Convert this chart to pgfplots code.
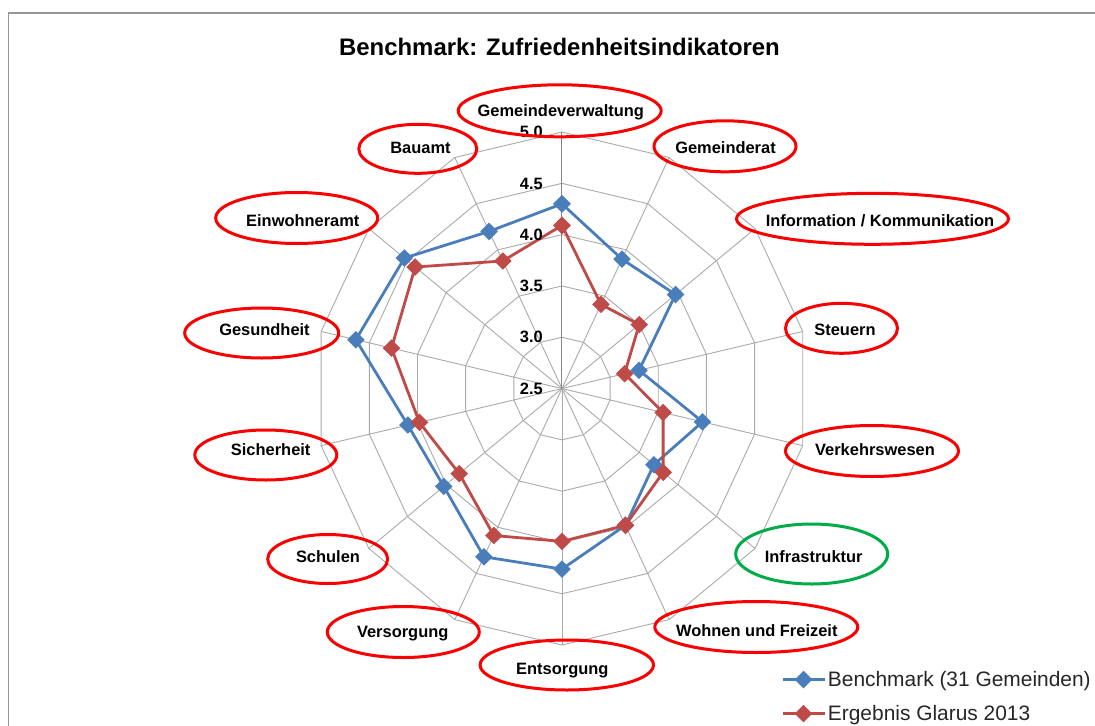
\documentclass[border=0pt]{standalone}
\usepackage{pgfplots}
\pgfplotsset{compat=1.18}
\usepackage{pgfplotstable}
\usepackage{fontspec}
\setmainfont{Liberation Sans}
\definecolor{bblue}{RGB}{74,126,187}
\definecolor{rred}{RGB}{190,75,72}
\definecolor{gridc}{RGB}{170,170,170}
\definecolor{axc}{RGB}{134,134,134}
\definecolor{ellred}{RGB}{250,0,0}
\definecolor{ellgreen}{RGB}{0,172,72}
\definecolor{framec}{RGB}{150,150,150}

% angle (deg, counter-clockwise from east), value
\pgfplotstableread{
ang v
90 4.30
64.2857 3.90
38.5714 3.97
12.8571 3.30
-12.8571 3.96
-38.5714 3.69
-64.2857 3.98
-90 4.26
-115.7143 4.32
-141.4286 4.03
-167.1429 4.10
-192.8571 4.64
-218.5714 4.54
-244.2857 4.20
-270 4.30
}\bench
\pgfplotstableread{
ang v
90 4.09
64.2857 3.41
38.5714 3.50
12.8571 3.15
-12.8571 3.55
-38.5714 3.81
-64.2857 3.98
-90 3.99
-115.7143 4.09
-141.4286 3.83
-167.1429 3.98
-192.8571 4.27
-218.5714 4.40
-244.2857 3.88
-270 4.09
}\glarus

\begin{document}
\begin{tikzpicture}[
  lab/.style={font=\fontsize{16.5}{19}\selectfont\bfseries, anchor=base, inner sep=0pt},
  tick/.style={font=\fontsize{16.5}{19}\selectfont\bfseries, anchor=base east, inner sep=0pt},
  ell/.style={draw=ellred, line width=3bp},
]
\useasboundingbox (0,0) rectangle (1095bp,-726bp);
\clip (0,0) rectangle (1095bp,-726bp);
\fill[white] (0,0) rectangle (1095bp,-726bp);
\draw[framec, line width=1.2bp] (8.5bp,-740bp) -- (8.5bp,-13bp) -- (1110bp,-13bp);

\begin{axis}[at={(0,0)}, anchor=north west, scale only axis,
  width=1095bp, height=726bp,
  xmin=-5.688, xmax=5.395, ymin=-3.289, ymax=3.787,
  hide axis, clip=false,
  legend image code/.code={\draw[mark repeat=2,mark phase=2,#1] plot coordinates {(0bp,0bp) (21bp,0bp) (42bp,0bp)};},
  legend style={at={(rel axis cs:0.7132,0.0785)}, anchor=north west,
    draw=none, fill=none, font=\fontsize{21}{25}\selectfont,
    row sep=13.5bp, inner sep=0pt, nodes={inner sep=2bp, text=black!85}},
  legend cell align=left,
]
% radial grid polygons
\pgfplotsinvokeforeach{0.5,1.0,1.5,2.0,2.5}{
\addplot[gridc, line width=0.9bp, data cs=polar, forget plot] coordinates {
(90,#1) (64.2857,#1) (38.5714,#1) (12.8571,#1) (-12.8571,#1) (-38.5714,#1) (-64.2857,#1)
(-90,#1) (-115.7143,#1) (-141.4286,#1) (-167.1429,#1) (-192.8571,#1) (-218.5714,#1) (-244.2857,#1) (-270,#1)};
}
% spokes
\pgfplotsinvokeforeach{64.2857,38.5714,12.8571,-12.8571,-38.5714,-64.2857,-90,-115.7143,-141.4286,-167.1429,-192.8571,-218.5714,-244.2857}{
\addplot[gridc, line width=0.9bp, data cs=polar, forget plot] coordinates {(0,0) (#1,2.5)};
}
\addplot[axc, line width=1bp, data cs=polar, forget plot] coordinates {(0,0) (90,2.5)};

\addplot[bblue, line width=2.8bp, mark=square*, mark size=4.8bp, mark options={rotate=45, solid, fill=bblue}, data cs=polar]
  table[x=ang, y expr=\thisrow{v}-2.5] {\bench};
\addlegendentry{Benchmark (31 Gemeinden)}
\addplot[rred, line width=2.8bp, mark=square*, mark size=4.8bp, mark options={rotate=45, solid, fill=rred}, data cs=polar]
  table[x=ang, y expr=\thisrow{v}-2.5] {\glarus};
\addlegendentry{Ergebnis Glarus 2013}
\end{axis}

% title
\node[font=\fontsize{24}{28}\selectfont\bfseries, anchor=base, inner sep=0pt] at (559.5bp,-55.3bp) {Benchmark: Zufriedenheitsindikatoren};

% radial tick labels
\node[tick] at (543bp,-394.2bp) {2.5};
\node[tick] at (543bp,-342.9bp) {3.0};
\node[tick] at (543bp,-291.6bp) {3.5};
\node[tick] at (543bp,-240.3bp) {4.0};
\node[tick] at (543bp,-189.0bp) {4.5};
\node[tick] at (543bp,-137.7bp) {5.0};

% category labels
\node[lab] at (560.8bp,-116.6bp) {Gemeindeverwaltung};
\node[lab] at (725.5bp,-153.2bp) {Gemeinderat};
\node[lab] at (880bp,-226.6bp) {Information / Kommunikation};
\node[lab] at (845bp,-335.2bp) {Steuern};
\node[lab] at (875bp,-455.9bp) {Verkehrswesen};
\node[lab] at (813.7bp,-562.6bp) {Infrastruktur};
\node[lab] at (756.8bp,-636.9bp) {Wohnen und Freizeit};
\node[lab] at (562.3bp,-674.2bp) {Entsorgung};
\node[lab] at (402.7bp,-637.6bp) {Versorgung};
\node[lab] at (328bp,-562.6bp) {Schulen};
\node[lab] at (270.7bp,-455.2bp) {Sicherheit};
\node[lab] at (264.5bp,-335.2bp) {Gesundheit};
\node[lab] at (302.8bp,-226.6bp) {Einwohneramt};
\node[lab] at (420.5bp,-153.6bp) {Bauamt};

% annotation ellipses
\draw[ell] (559.7bp,-110.8bp) ellipse [x radius=101.5bp, y radius=26bp];
\draw[ell] (725bp,-146.3bp) ellipse [x radius=71bp, y radius=25.5bp];
\draw[ell] (872.5bp,-218.8bp) ellipse [x radius=136bp, y radius=25.5bp];
\draw[ell] (841.5bp,-328.3bp) ellipse [x radius=56bp, y radius=25bp];
\draw[ell] (872bp,-451bp) ellipse [x radius=86.5bp, y radius=25.5bp];
\draw[ell, draw=ellgreen] (811.7bp,-554bp) ellipse [x radius=76bp, y radius=30bp];
\draw[ell] (756.3bp,-627bp) ellipse [x radius=101.5bp, y radius=25.5bp];
\draw[ell] (566.8bp,-665bp) ellipse [x radius=86.7bp, y radius=25bp];
\draw[ell] (403.3bp,-632bp) ellipse [x radius=76bp, y radius=25.5bp];
\draw[ell] (327.7bp,-559bp) ellipse [x radius=60bp, y radius=24.5bp];
\draw[ell] (265.8bp,-455bp) ellipse [x radius=71bp, y radius=25bp];
\draw[ell] (261.7bp,-333bp) ellipse [x radius=77bp, y radius=25bp];
\draw[ell] (296.7bp,-218bp) ellipse [x radius=81bp, y radius=25.5bp];
\draw[ell] (417.8bp,-148.8bp) ellipse [x radius=59bp, y radius=24.5bp];
\end{tikzpicture}
\end{document}
